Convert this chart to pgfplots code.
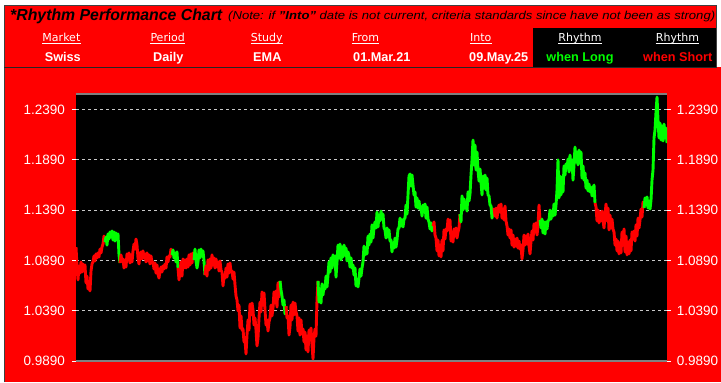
\documentclass[border=0pt]{standalone}
\usepackage{pgfplots}
\pgfplotsset{compat=1.18}
\usepackage{fontspec}
\setmainfont{Liberation Sans}
\newfontfamily\dejavu{DejaVu Sans}
\usepackage{graphicx}
\definecolor{lgreen}{RGB}{0,255,0}
\definecolor{bred}{RGB}{255,0,0}
\definecolor{gridc}{RGB}{200,200,200}
\newcommand{\labfont}{\dejavu\fontsize{11bp}{13bp}\selectfont}
\newcommand{\valfont}{\fontsize{12.7bp}{14bp}\selectfont\bfseries}
\newcommand{\tickfont}{\fontsize{13.5bp}{15bp}\selectfont}
\begin{document}
\begin{tikzpicture}
\begin{scope}[x=1bp,y=-1bp]
\path[use as bounding box] (0,0) rectangle (721,382);
\fill[white] (0,0) rectangle (721,382);
\fill[bred] (4,67) rectangle (721,382);
\fill[bred] (4,5) rectangle (717,67);
\draw[line width=1bp, black!75] (4.5,382) -- (4.5,5.5) -- (716.5,5.5) -- (716.5,67);
\draw[line width=1bp, black!85] (4,67) -- (717,67);
\fill[black] (533,27.5) rectangle (716,66.5);
% title
\node[anchor=base west, inner sep=0pt] at (10,20.7) {\resizebox{212bp}{\height}{\fontsize{16bp}{18bp}\selectfont\bfseries\itshape *Rhythm Performance Chart}};
\node[anchor=base west, inner sep=0pt] at (228,19.5) {\resizebox{487bp}{\height}{\fontsize{11.5bp}{13bp}\selectfont\itshape (Note: if \textbf{"Into"} date is not current, criteria standards since have not been as strong)}};
% labels
\node[anchor=base west, inner sep=0pt, text=white, font=\labfont] (l1) at (42.3,41) {Market};
\node[anchor=base west, inner sep=0pt, text=white, font=\labfont] (l2) at (150.3,41) {Period};
\node[anchor=base west, inner sep=0pt, text=white, font=\labfont] (l3) at (250.6,41) {Study};
\node[anchor=base west, inner sep=0pt, text=white, font=\labfont] (l4) at (351.7,41) {From};
\node[anchor=base west, inner sep=0pt, text=white, font=\labfont] (l5) at (470,41) {Into};
\node[anchor=base, inner sep=0pt, text=white, font=\labfont] (l6) at (580,41) {Rhythm};
\node[anchor=base, inner sep=0pt, text=white, font=\labfont] (l7) at (677.5,41) {Rhythm};
\foreach \n in {l1,l2,l3,l4,l5,l6,l7}{
  \draw[white, line width=0.9bp] ([yshift=-2bp]\n.base west) -- ([yshift=-2bp]\n.base east);
}
% values
\node[anchor=base west, inner sep=0pt, text=white, font=\valfont] at (44.6,61.7) {Swiss};
\node[anchor=base west, inner sep=0pt, text=white, font=\valfont] at (153,61.7) {Daily};
\node[anchor=base west, inner sep=0pt, text=white, font=\valfont] at (253,61.7) {EMA};
\node[anchor=base west, inner sep=0pt, text=white, font=\valfont] at (353,61.7) {01.Mar.21};
\node[anchor=base west, inner sep=0pt, text=white, font=\valfont] at (469,61.7) {09.May.25};
\node[anchor=base, inner sep=0pt, text=lgreen, font=\valfont] at (580,61.7) {when Long};
\node[anchor=base, inner sep=0pt, text=bred, font=\valfont] at (677.7,61.7) {when Short};
\end{scope}

\begin{axis}[
  at={(76bp,-361bp)}, anchor=south west,
  width=591bp, height=267bp, scale only axis,
  xmin=76, xmax=667, ymin=0.989, ymax=1.2543,
  xtick=\empty,
  ytick={0.989,1.039,1.089,1.139,1.189,1.239},
  scaled y ticks=false,
  /pgf/number format/assume math mode=true,
  yticklabel style={text=white, font=\tickfont, inner sep=0pt, xshift=-7bp,
    /pgf/number format/fixed, /pgf/number format/fixed zerofill, /pgf/number format/precision=4},
  axis background/.style={fill=black},
  separate axis lines,
  x axis line style={draw=gray, line width=1.5bp},
  y axis line style={draw=none},
  ymajorgrids,
  major grid style={gridc, dash pattern=on 3bp off 3bp, line width=0.8bp},
  tick align=outside, major tick length=4bp,
  ytick style={white, line width=1bp},
  every axis plot/.append style={line width=2.9bp, line join=round, no markers},
]
\addplot[bred] coordinates {(76,1.1022)(77,1.0834)(78,1.0696)(79,1.0834)(80,1.0764)(81,1.0874)(82,1.0774)(83,1.0854)(84,1.0784)(85,1.0844)(86,1.0666)(87,1.0734)(88,1.0606)(89,1.0656)(90,1.0586)(91,1.0784)(92,1.0854)(93,1.0874)(94,1.0934)(95,1.0884)(96,1.0954)(97,1.0914)(98,1.0964)(99,1.0924)(100,1.1002)(101,1.0964)(102,1.1022)(103,1.1052)(104,1.1132)(105,1.1072)};
\addplot[lgreen] coordinates {(105,1.1072)(106,1.1122)(107,1.1042)(108,1.1152)(109,1.1102)(110,1.1172)(111,1.1122)(112,1.1182)(113,1.1092)(114,1.1172)(115,1.1082)(116,1.1162)(117,1.1102)(118,1.1152)(119,1.0944)(120,1.0864)};
\addplot[bred] coordinates {(120,1.0864)(121,1.0944)(122,1.0884)(123,1.0904)(124,1.0814)(125,1.0894)(126,1.0824)(127,1.0954)(128,1.0894)(129,1.0964)(130,1.0864)(131,1.0944)(132,1.0874)(133,1.0984)(134,1.1052)(135,1.1002)(136,1.1102)(137,1.1042)(138,1.0914)(139,1.0854)(140,1.0954)(141,1.0974)(142,1.0904)(143,1.0984)(144,1.0914)(145,1.0954)(146,1.0874)(147,1.0964)(148,1.0884)(149,1.0944)(150,1.0854)(151,1.0934)(152,1.0864)(153,1.0874)(154,1.0804)(155,1.0864)(156,1.0764)(157,1.0844)(158,1.0754)(159,1.0714)(160,1.0784)(161,1.0824)(162,1.0774)(163,1.0834)(164,1.0804)(165,1.0854)(166,1.0814)(167,1.0924)(168,1.0874)(169,1.0934)(170,1.0924)(171,1.1002)(172,1.0944)};
\addplot[lgreen] coordinates {(172,1.0944)(173,1.0994)(174,1.0914)(175,1.0964)(176,1.0874)(177,1.0974)(178,1.0814)};
\addplot[bred] coordinates {(178,1.0814)(179,1.0696)(180,1.0774)(181,1.0874)(182,1.0734)(183,1.0904)(184,1.0814)(185,1.0894)(186,1.0814)(187,1.0904)(188,1.0824)(189,1.0944)(190,1.0844)(191,1.0954)(192,1.0864)(193,1.0964)(194,1.0894)};
\addplot[lgreen] coordinates {(194,1.0894)(195,1.1002)(196,1.0884)(197,1.0814)(198,1.0874)(199,1.0994)(200,1.0914)(201,1.1002)(202,1.0934)(203,1.0984)(204,1.0884)(205,1.0744)};
\addplot[bred] coordinates {(205,1.0744)(206,1.0834)(207,1.0734)(208,1.0894)(209,1.0794)(210,1.0904)(211,1.0814)(212,1.0944)(213,1.0844)(214,1.0914)(215,1.0814)(216,1.0904)(217,1.0824)(218,1.0874)(219,1.0784)(220,1.0884)(221,1.0794)(222,1.0774)(223,1.0636)(224,1.0734)(225,1.0714)(226,1.0814)(227,1.0724)(228,1.0854)(229,1.0764)(230,1.0864)(231,1.0774)(232,1.0784)(233,1.0704)(234,1.0774)(235,1.0646)(236,1.0536)(237,1.0496)(238,1.0388)(239,1.0446)(240,1.0218)(241,1.0338)(242,1.0198)(243,1.0208)(244,1.0080)(245,1.0100)(246,0.9960)(247,1.0148)(248,1.0298)(249,1.0198)(250,1.0456)(251,1.0348)(252,1.0466)(253,1.0398)(254,1.0248)(255,1.0318)(256,1.0198)(257,1.0040)(258,1.0118)(259,1.0318)(260,1.0476)(261,1.0378)(262,1.0576)(263,1.0446)(264,1.0566)(265,1.0398)(266,1.0248)(267,1.0298)(268,1.0188)(269,1.0278)(270,1.0318)(271,1.0446)(272,1.0338)(273,1.0416)(274,1.0576)(275,1.0466)(276,1.0586)(277,1.0426)(278,1.0666)(279,1.0526)(280,1.0686)};
\addplot[lgreen] coordinates {(280,1.0686)(281,1.0596)(282,1.0536)(283,1.0446)(284,1.0496)(285,1.0358)(286,1.0436)};
\addplot[bred] coordinates {(286,1.0436)(287,1.0318)(288,1.0338)(289,1.0148)(290,1.0228)(291,1.0446)(292,1.0298)(293,1.0476)(294,1.0348)(295,1.0466)(296,1.0378)(297,1.0338)(298,1.0188)(299,1.0318)(300,1.0148)(301,1.0298)(302,1.0158)(303,1.0208)(304,1.0080)(305,1.0178)(306,1.0000)(307,1.0138)(308,0.9980)(309,1.0198)(310,1.0100)(311,1.0218)(312,1.0050)(313,0.9910)(314,1.0118)(315,1.0208)(316,1.0138)(317,1.0496)(318,1.0686)};
\addplot[lgreen] coordinates {(318,1.0686)(319,1.0476)(320,1.0606)(321,1.0466)(322,1.0656)(323,1.0546)(324,1.0636)(325,1.0606)(326,1.0734)(327,1.0626)(328,1.0744)(329,1.0874)(330,1.0774)(331,1.0914)(332,1.0814)(333,1.0944)(334,1.0844)(335,1.0934)(336,1.0724)(337,1.0874)(338,1.1042)(339,1.0914)(340,1.1052)(341,1.0894)(342,1.1022)(343,1.0924)(344,1.1042)(345,1.0944)(346,1.1012)(347,1.0884)(348,1.0974)(349,1.0934)(350,1.0824)(351,1.0914)(352,1.0814)(353,1.0844)(354,1.0744)(355,1.0814)(356,1.0636)(357,1.0704)(358,1.0626)(359,1.0714)(360,1.0804)(361,1.0734)(362,1.0814)(363,1.0874)(364,1.1032)(365,1.0944)(366,1.1012)(367,1.0954)(368,1.1132)(369,1.1042)(370,1.1152)(371,1.1072)(372,1.1242)(373,1.1112)(374,1.1212)(375,1.1272)(376,1.1212)(377,1.1370)(378,1.1222)(379,1.1340)(380,1.1282)(381,1.1380)(382,1.1300)(383,1.1350)(384,1.1212)(385,1.1192)(386,1.1112)(387,1.1212)(388,1.1122)(389,1.1192)(390,1.1082)(391,1.1092)(392,1.0974)(393,1.1062)(394,1.1012)(395,1.1112)(396,1.1022)(397,1.1092)(398,1.1202)(399,1.1212)(400,1.1310)(401,1.1232)(402,1.1292)(403,1.1222)(404,1.1300)(405,1.1310)(406,1.1440)(407,1.1350)(408,1.1540)(409,1.1728)(410,1.1748)(411,1.1628)(412,1.1738)(413,1.1638)(414,1.1540)(415,1.1570)(416,1.1420)(417,1.1510)(418,1.1410)(419,1.1480)(420,1.1400)(421,1.1420)(422,1.1330)(423,1.1440)(424,1.1370)(425,1.1450)(426,1.1310)(427,1.1420)(428,1.1300)(429,1.1272)(430,1.1202)(431,1.1262)(432,1.1182)(433,1.1232)};
\addplot[bred] coordinates {(433,1.1232)(434,1.1272)(435,1.1142)(436,1.1112)(437,1.0984)(438,1.1092)(439,1.0934)(440,1.1042)(441,1.0924)(442,1.1092)(443,1.0984)(444,1.1192)(445,1.1102)(446,1.1202)(447,1.1182)(448,1.1300)(449,1.1192)(450,1.1292)(451,1.1082)(452,1.1172)(453,1.1072)(454,1.1202)(455,1.1132)(456,1.1212)(457,1.1112)(458,1.1172)(459,1.1212)(460,1.1350)};
\addplot[lgreen] coordinates {(460,1.1350)(461,1.1272)(462,1.1530)(463,1.1390)(464,1.1500)(465,1.1410)(466,1.1470)(467,1.1380)(468,1.1570)(469,1.1480)(470,1.1550)(471,1.1738)(472,1.1888)(473,1.2086)(474,1.1838)(475,1.2036)(476,1.1788)(477,1.1966)(478,1.1788)(479,1.1678)(480,1.1798)(481,1.1668)(482,1.1540)(483,1.1728)(484,1.1608)(485,1.1738)(486,1.1590)(487,1.1708)(488,1.1540)(489,1.1530)(490,1.1440)(491,1.1430)(492,1.1310)(493,1.1370)(494,1.1410)};
\addplot[bred] coordinates {(494,1.1410)(495,1.1330)(496,1.1410)(497,1.1310)(498,1.1390)(499,1.1440)(500,1.1370)(501,1.1450)(502,1.1310)(503,1.1400)(504,1.1292)(505,1.1430)(506,1.1282)(507,1.1232)(508,1.1142)(509,1.1202)(510,1.1112)(511,1.1192)(512,1.1042)(513,1.1142)(514,1.1022)(515,1.1102)(516,1.1032)(517,1.1112)(518,1.1012)(519,1.1082)(520,1.1002)(521,1.1042)(522,1.0904)(523,1.0994)(524,1.1142)(525,1.1042)(526,1.1132)(527,1.1052)(528,1.1152)(529,1.1032)(530,1.0954)(531,1.1082)(532,1.1182)(533,1.1092)(534,1.1252)(535,1.1172)(536,1.1262)(537,1.1142)(538,1.1232)(539,1.1440)(540,1.1290)};
\addplot[lgreen] coordinates {(540,1.1290)(541,1.1212)(542,1.1300)(543,1.1162)(544,1.1272)(545,1.1152)(546,1.1272)(547,1.1202)(548,1.1282)(549,1.1292)(550,1.1390)(551,1.1300)(552,1.1380)(553,1.1330)(554,1.1450)(555,1.1340)(556,1.1440)(557,1.1590)(558,1.1888)(559,1.1510)(560,1.1728)(561,1.1540)(562,1.1718)(563,1.1570)(564,1.1828)(565,1.1738)(566,1.1848)(567,1.1808)(568,1.1896)(569,1.1768)(570,1.1936)(571,1.1788)(572,1.1888)(573,1.1688)(574,1.1838)(575,1.2016)(576,1.1868)(577,1.1966)(578,1.1838)(579,1.1986)(580,1.1858)(581,1.1966)(582,1.1708)(583,1.1828)(584,1.1688)(585,1.1758)(586,1.1608)(587,1.1688)(588,1.1580)(589,1.1648)(590,1.1570)(591,1.1618)(592,1.1530)(593,1.1608)(594,1.1638)(595,1.1460)};
\addplot[bred] coordinates {(595,1.1460)(596,1.1420)(597,1.1282)(598,1.1390)(599,1.1262)(600,1.1370)(601,1.1282)(602,1.1380)(603,1.1290)(604,1.1212)(605,1.1340)(606,1.1450)(607,1.1282)(608,1.1410)(609,1.1192)(610,1.1340)(611,1.1212)(612,1.1300)(613,1.1202)(614,1.1172)(615,1.1042)(616,1.1102)(617,1.0984)(618,1.1082)(619,1.0954)(620,1.1062)(621,1.0964)(622,1.1172)(623,1.1042)(624,1.1202)(625,1.0974)(626,1.1132)(627,1.0944)(628,1.1072)(629,1.0954)(630,1.1092)(631,1.0984)(632,1.1172)(633,1.1102)(634,1.1182)(635,1.1082)(636,1.1242)(637,1.1132)(638,1.1310)(639,1.1212)(640,1.1292)(641,1.1400)(642,1.1320)(643,1.1470)(644,1.1410)};
\addplot[lgreen] coordinates {(644,1.1410)(645,1.1510)(646,1.1440)(647,1.1520)(648,1.1410)(649,1.1480)(650,1.1400)(651,1.1490)(652,1.1688)(653,1.1788)(654,1.2106)(655,1.2186)(656,1.2364)(657,1.2513)(658,1.2284)(659,1.2106)(660,1.2254)(661,1.2086)(662,1.2224)(663,1.2076)(664,1.2244)(665,1.2106)(666,1.2204)(667,1.2056)};
\end{axis}

\begin{axis}[
  at={(76bp,-361bp)}, anchor=south west,
  width=591bp, height=267bp, scale only axis,
  xmin=76, xmax=667, ymin=0.989, ymax=1.2543,
  xtick=\empty, hide x axis,
  ytick={0.989,1.039,1.089,1.139,1.189,1.239},
  scaled y ticks=false,
  /pgf/number format/assume math mode=true,
  yticklabel pos=right,
  yticklabel style={text=white, font=\tickfont, inner sep=0pt, xshift=5.7bp,
    /pgf/number format/fixed, /pgf/number format/fixed zerofill, /pgf/number format/precision=4},
  y axis line style={draw=none},
  tick align=outside, major tick length=4bp,
  ytick style={draw=none},
]
\end{axis}
\end{tikzpicture}
\end{document}
